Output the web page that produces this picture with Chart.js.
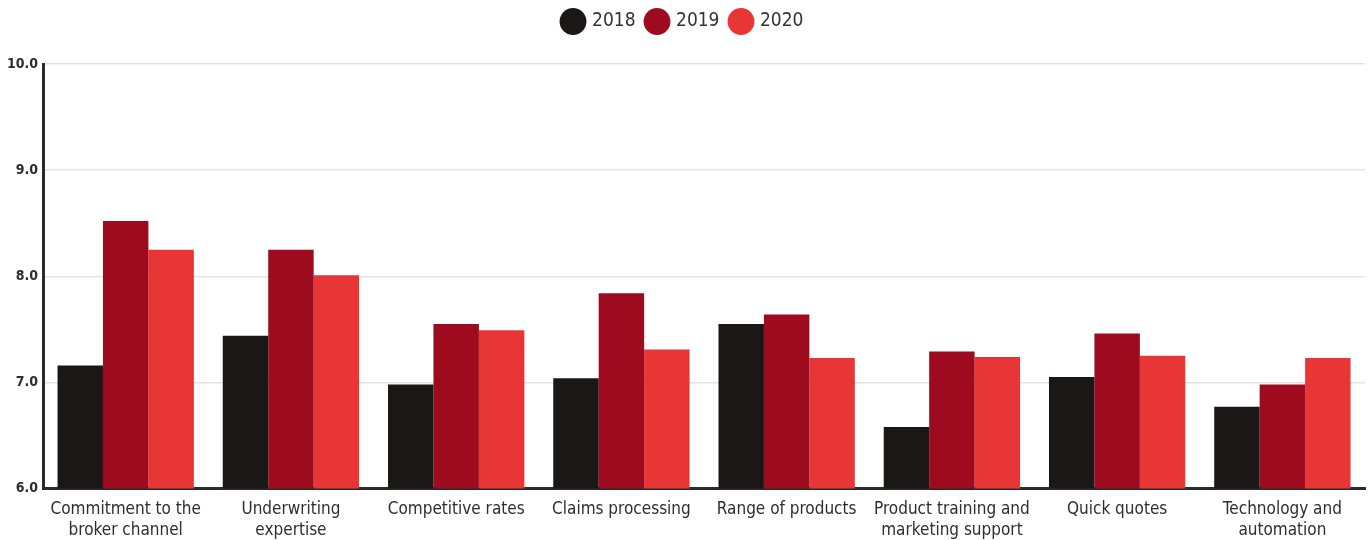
<!DOCTYPE html>
<html>
<head>
<meta charset="utf-8">
<script src="https://cdn.jsdelivr.net/npm/chart.js@4"></script>
<style>
  html, body { margin: 0; padding: 0; background: #fff; }
  #wrap { width: 1369px; height: 540px; position: relative; }
</style>
</head>
<body>
<div id="wrap"><canvas id="c"></canvas></div>
<script>
const categories = [
  ["Commitment to the", "broker channel"],
  ["Underwriting", "expertise"],
  "Competitive rates",
  "Claims processing",
  "Range of products",
  ["Product training and", "marketing support"],
  "Quick quotes",
  ["Technology and", "automation"]
];
const series2018 = [7.16, 7.44, 6.98, 7.04, 7.55, 6.58, 7.05, 6.77];
const series2019 = [8.52, 8.25, 7.55, 7.84, 7.64, 7.29, 7.46, 6.98];
const series2020 = [8.25, 8.01, 7.49, 7.31, 7.23, 7.24, 7.25, 7.23];
const seriesNames = ["2018", "2019", "2020"];
const colors = ["#1c1717", "#9e0b1e", "#e83536"];
const yTicks = [6, 7, 8, 9, 10];

const FONT = "'Liberation Sans Narrow', 'DejaVu Sans Condensed', 'Roboto', sans-serif";

const legendMargin = {
  id: 'legendMargin',
  beforeInit(chart) {
    const orig = chart.legend.fit;
    chart.legend.fit = function () {
      orig.bind(chart.legend)();
      this.height += 23;
    };
  }
};

new Chart(document.getElementById('c'), {
  type: 'bar',
  data: {
    labels: categories,
    datasets: [series2018, series2019, series2020].map((d, i) => ({
      label: seriesNames[i],
      data: d,
      backgroundColor: colors[i],
      borderWidth: 0,
      barPercentage: 1.0,
      categoryPercentage: 0.825
    }))
  },
  plugins: [legendMargin],
  options: {
    responsive: true,
    maintainAspectRatio: false,
    animation: false,
    layout: { padding: { left: 2, right: 4, top: 0, bottom: -11 } },
    plugins: {
      tooltip: { enabled: false },
      legend: {
        position: 'top',
        labels: {
          usePointStyle: true,
          pointStyle: 'circle',
          boxWidth: 20,
          boxHeight: 20,
          padding: 12,
          color: '#333',
          font: { family: FONT, size: 19 }
        }
      }
    },
    scales: {
      x: {
        grid: { display: false, drawTicks: false },
        border: { display: true, color: '#2b2b2b', width: 3 },
        ticks: {
          color: '#2e2e2e',
          font: { family: FONT, size: 17, lineHeight: 1.25 },
          padding: 10,
          maxRotation: 0,
          autoSkip: false
        }
      },
      y: {
        min: 6,
        max: 10,
        afterBuildTicks: (axis) => { axis.ticks = yTicks.map(v => ({ value: v })); },
        grid: { color: '#e3e3e3', lineWidth: 1.5, drawTicks: false },
        border: { display: true, color: '#2b2b2b', width: 3 },
        ticks: {
          color: '#2e2e2e',
          font: { family: FONT, size: 14, weight: 'bold' },
          padding: 5,
          callback: (v) => Number(v).toFixed(1)
        }
      }
    }
  }
});
</script>
</body>
</html>
